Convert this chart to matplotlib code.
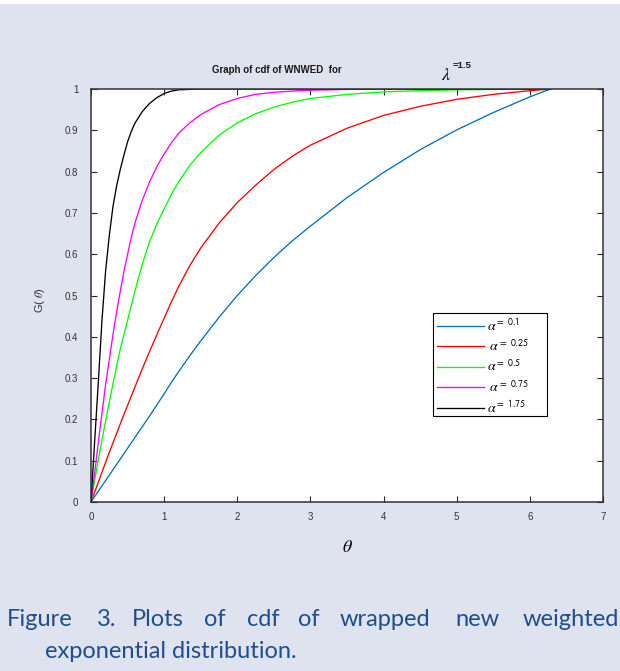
import matplotlib
matplotlib.use("Agg")
import matplotlib.pyplot as plt
from matplotlib.patches import Rectangle

plt.rcParams['font.family'] = ['Liberation Sans', 'DejaVu Sans']
plt.rcParams['mathtext.fontset'] = 'stix'

# theta de 0 à 2*pi
theta = [0, 0.05, 0.1, 0.15, 0.2, 0.25, 0.3, 0.35, 0.4, 0.45, 0.5, 0.55, 0.6, 0.7, 0.8,
         0.9, 1.0, 1.1, 1.2, 1.35, 1.5, 1.75, 2.0, 2.25, 2.5, 2.75, 3.0, 3.5, 4.0, 4.5,
         5.0, 5.5, 6.0, 6.2832]

cdf_a010 = [0, 0.013, 0.026, 0.039, 0.052, 0.065, 0.078, 0.091, 0.104, 0.117, 0.130, 0.143,
            0.156, 0.182, 0.208, 0.235, 0.262, 0.290, 0.316, 0.354, 0.390, 0.447, 0.500,
            0.548, 0.592, 0.632, 0.668, 0.737, 0.798, 0.853, 0.901, 0.943, 0.981, 1.0]
cdf_a025 = [0, 0.024, 0.048, 0.072, 0.096, 0.120, 0.143, 0.166, 0.189, 0.212, 0.234, 0.256,
            0.278, 0.322, 0.364, 0.405, 0.445, 0.485, 0.522, 0.572, 0.615, 0.675, 0.725,
            0.767, 0.805, 0.837, 0.864, 0.905, 0.936, 0.958, 0.975, 0.987, 0.996, 1.0]
cdf_a050 = [0, 0.052, 0.102, 0.150, 0.196, 0.242, 0.286, 0.328, 0.370, 0.405, 0.440, 0.475,
            0.510, 0.575, 0.630, 0.673, 0.710, 0.745, 0.776, 0.815, 0.846, 0.888, 0.918,
            0.940, 0.956, 0.968, 0.977, 0.987, 0.993, 0.996, 0.998, 0.999, 1.0, 1.0]
cdf_a075 = [0, 0.070, 0.145, 0.215, 0.285, 0.345, 0.405, 0.460, 0.510, 0.558, 0.600, 0.640,
            0.675, 0.730, 0.775, 0.812, 0.843, 0.870, 0.893, 0.918, 0.938, 0.962, 0.977,
            0.987, 0.992, 0.995, 0.997, 0.999, 1.0, 1.0, 1.0, 1.0, 1.0, 1.0]
cdf_a175 = [0, 0.147, 0.290, 0.440, 0.560, 0.645, 0.715, 0.765, 0.805, 0.840, 0.872, 0.897,
            0.917, 0.945, 0.965, 0.979, 0.989, 0.995, 0.998, 0.999, 1.0, 1.0, 1.0,
            1.0, 1.0, 1.0, 1.0, 1.0, 1.0, 1.0, 1.0, 1.0, 1.0, 1.0]

series = [cdf_a010, cdf_a025, cdf_a050, cdf_a075, cdf_a175]
couleurs = ['#0072BD', '#ff0000', '#00ff00', '#ff00ff', '#000000']
etiquettes = [r'$\alpha^{\mathsf{=\ 0.1}}$', r'$\;\alpha^{\mathsf{=\ 0.25}}$',
              r'$\alpha^{\mathsf{=\ 0.5}}$', r'$\;\alpha^{\mathsf{=\ 0.75}}$',
              r'$\alpha^{\mathsf{=\ 1.75}}$']

xticks = [0, 1, 2, 3, 4, 5, 6, 7]
yticks = [0, 0.1, 0.2, 0.3, 0.4, 0.5, 0.6, 0.7, 0.8, 0.9, 1]
ytick_labels = ['0', '0.1', '0.2', '0.3', '0.4', '0.5', '0.6', '0.7', '0.8', '0.9', '1']

fond = '#dfe2ef'
W, H = 620, 671

fig = plt.figure(figsize=(W / 100, H / 100), dpi=100, facecolor=fond)
fig.patches.append(Rectangle((0, 1 - 4 / H), 1, 4 / H, transform=fig.transFigure,
                             facecolor='white', edgecolor='none'))

ax = fig.add_axes([91 / W, 1 - 502 / H, 512 / W, 413 / H])
for y, c, lab in zip(series, couleurs, etiquettes):
    ax.plot(theta, y, color=c, lw=0.95, label=lab)

ax.set_xlim(0, 7)
ax.set_ylim(0, 1)
ax.set_xticks(xticks)
ax.set_yticks(yticks)
ax.set_xticklabels([str(t) for t in xticks])
ax.set_yticklabels(ytick_labels)
ax.tick_params(direction='in', length=4, width=0.8, top=True, right=True,
               labelsize=7, colors='#262626', labelcolor='#333333')
ax.tick_params(axis='y', pad=9)
ax.tick_params(axis='x', pad=7)
for s in ax.spines.values():
    s.set_color('#333333')
    s.set_linewidth(1.1)

# Cadre de la légende (dessiné à la main, plus large que le texte)
x0, x1 = (433 - 91) / 512, (547 - 91) / 512
y0, y1 = (502 - 416) / 413, (502 - 313) / 413
ax.add_patch(Rectangle((x0, y0), x1 - x0, y1 - y0, transform=ax.transAxes,
                       facecolor='white', edgecolor='black', lw=0.8, zorder=4))
leg = ax.legend(loc='upper left', bbox_to_anchor=(x0, y1), borderaxespad=0,
                fontsize=10, handlelength=3.4, handletextpad=0.2, labelspacing=0.33,
                borderpad=0.3, frameon=False)
leg.set_zorder(5)

# Titre et étiquettes des axes
fig.text(277 / W, 1 - 70 / H, 'Graph of cdf of WNWED  for', fontsize=7,
         fontweight='bold', ha='center', va='center', color='#1a1a1a')
fig.text(446 / W, 1 - 76 / H, r'$\lambda$', fontsize=13, ha='center', va='center')
fig.text(453 / W, 1 - 66 / H, '=1.5', fontsize=6.8, fontweight='bold',
         ha='left', va='center', color='#1a1a1a')
fig.text(347 / W, 1 - 548 / H, r'$\theta$', fontsize=13, ha='center', va='center')
fig.text(40 / W, 1 - 300 / H, r'G( $\theta$)', fontsize=8, rotation=90,
         ha='center', va='center', color='#333333')

# Légende de la figure (texte justifié)
bleu = '#1f4e8c'
mots = [('Figure', 7), ('3.', 97), ('Plots', 132), ('of', 204), ('cdf', 247),
        ('of', 298), ('wrapped', 340), ('new', 455)]
for m, x in mots:
    fig.text(x / W, 1 - 620 / H, m, fontsize=17, family='Lato', color=bleu,
             ha='left', va='center')
fig.text(619 / W, 1 - 620 / H, 'weighted', fontsize=17, family='Lato', color=bleu,
         ha='right', va='center')
fig.text(45 / W, 1 - 652 / H, 'exponential distribution.', fontsize=17, family='Lato',
         color=bleu, ha='left', va='center')

fig.savefig('out.png', dpi=100, facecolor=fond)
